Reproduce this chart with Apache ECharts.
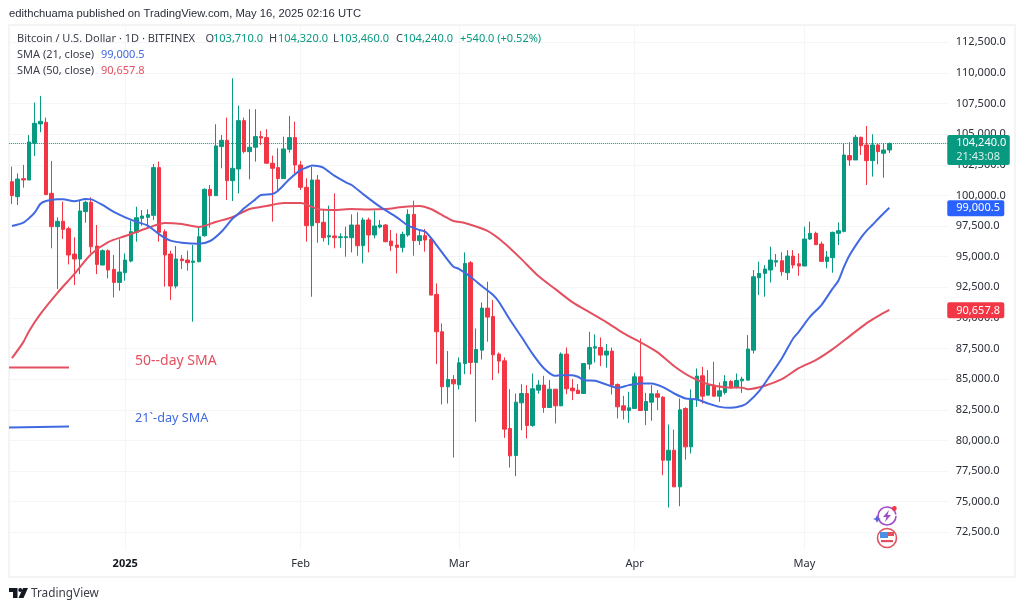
<!DOCTYPE html>
<html><head><meta charset="utf-8">
<script src="https://cdn.jsdelivr.net/npm/echarts@6/dist/echarts.min.js"></script>
<style>html,body{margin:0;padding:0;background:#fff}#c{width:1024px;height:610px}</style>
</head><body><div id="c"></div>
<script>
const opens=[101125,99900,101370,101260,104255,105835,105970,100170,97450,97885,97285,95215,94810,98675,99435,95870,94315,95490,93965,92900,
93690,94640,96985,98130,98210,98375,102270,97040,95215,92600,94810,94725,94535,94590,96715,100500,99980,103985,104500,101205,
102160,106105,103575,103930,104800,104720,102625,102270,101370,103765,104720,102485,100660,97530,101260,97805,96605,96690,96550,96550,
96550,97585,95895,97995,96770,97420,97585,96280,95950,95760,96770,98455,96305,96715,96415,91920,88870,84375,84975,84540,
86280,94505,86365,87370,90800,90120,87045,86500,80975,78770,83070,83830,81220,84105,84515,82690,84185,82825,87045,84270,
84105,83830,86230,87535,87590,86965,87290,84570,82825,82445,82610,85195,82445,83125,83805,83530,78385,79200,76210,82610,
79475,83340,85275,83695,84515,83615,83915,84815,84325,84865,84920,87370,93280,93635,93910,94560,94670,93690,95050,94425,
94235,96440,96905,96030,94615,94915,96905,97065,103250,102895,104745,104120,102840,104120,103440,103710];
const highs=[102350,101800,102490,104935,107580,108125,106355,102815,98210,99490,97450,96580,99575,99575,99845,97585,95600,95600,95135,96415,
95270,97940,99080,98810,98865,102570,102760,97230,95490,95870,95135,95490,95950,97450,100580,100850,105810,104935,106355,109565,
107330,106355,107035,107035,105265,105400,103250,103850,104800,106490,106025,102815,101395,102350,101670,98810,99165,100170,96905,97450,
98455,98620,98185,98185,98755,97995,97665,97175,96905,97040,98865,99570,97175,97260,96630,92820,89550,87290,85330,86775,
95350,94640,89140,91265,92955,91455,87180,86775,84185,83830,84595,84515,85465,84920,85275,84920,84185,87180,87590,85005,
84595,86280,88870,88650,88405,87865,87590,84650,83640,83970,85520,88325,83885,84515,84105,83615,81300,80890,83425,82700,
84160,85875,86010,85740,86420,84730,85330,84920,85465,85195,88600,93905,94590,94315,95815,95215,95350,95540,95540,95270,
97450,97855,97040,96225,95460,97040,97800,104255,104340,104935,104800,105670,104990,104200,104255,104320];
const lows=[99300,99220,100635,101260,103220,105155,100035,95680,92355,96440,94370,92685,93580,97775,95270,93580,94315,93230,91675,92220,
93035,94535,96220,97530,97450,97995,96220,92550,91460,92410,93990,93855,89690,94535,96630,97365,99980,102215,99625,99545,
100170,103440,101315,102760,104120,102625,97855,100445,101370,103495,101805,100445,96225,91730,96140,96225,95950,95680,95735,95000,
95350,95080,94455,95350,96495,97310,96170,95460,93635,95350,96630,95080,95950,95410,91865,86230,82935,83015,78605,84160,
85410,85385,81520,86610,88055,84920,85465,80210,77790,77080,80835,80155,81110,83830,82255,82665,81380,82795,83775,83290,
83775,83830,85790,86365,86065,85930,83750,81790,81710,81435,82610,82420,81245,81600,82470,77160,74520,76210,74630,78440,
78930,82740,83015,83695,83560,83150,83750,84240,84240,83885,84920,87100,91865,91730,92900,94180,93445,93090,94045,93445,
94235,96360,95950,94590,94045,93690,95950,96985,102405,102895,103300,100850,101535,102540,101450,103460];
const closes=[99980,101340,101260,104365,105890,106050,100065,97450,97885,97230,95135,94810,98730,99435,95815,94370,95490,93910,92900,93745,
94725,97040,98185,98320,98430,102270,96985,95135,92600,94810,94670,94510,94640,96630,100500,99980,104040,104500,101205,102215,
106105,103575,103930,104800,104690,102625,102215,101370,103795,104720,102485,100660,97530,101260,97775,96550,96715,96550,96630,96630,
97585,95895,97995,96770,97505,97585,96225,95895,95760,96825,98455,96305,96715,96360,91865,88870,84375,84975,84620,86340,
94450,86365,87425,90800,90070,86990,86475,80920,78740,83125,83830,81220,84215,84515,82690,84185,82825,87045,84215,84050,
83830,86280,87590,87645,86965,87290,84515,82745,82470,82665,85195,82445,83180,83805,83530,78385,79200,76210,82500,79475,
83340,85250,83615,84515,83615,84050,84815,84270,84895,85005,87455,93360,93635,93990,94725,94670,93770,95050,94315,94235,
96440,96905,95980,94615,94970,96985,97120,103300,102895,104745,104065,102840,104120,103575,103710,104240];

const sma21Index=[0,2,3,4,5,6,8,9,11,13,14,16,18,20,22,24,26,28,30,33,35,37,39,40,41,43,44,46,47,49,51,52,53,54,55,57,59,60,62,65,68,70,72,73,74,75,77,78,79,81,83,85,86,88,90,92,94,96,97,99,100,101,103,105,107,109,111,113,115,117,119,121,123,125,127,129,130,132,134,136,138,139,141,143,145,146,147,148,150,151,152,153,154,155];
const sma21Values=[97500,97775,98130,98590,99300,99545,99680,99680,99520,99710,99680,99220,98650,98210,97855,97530,96825,96305,96140,96060,96280,97040,98130,98500,98945,99680,100035,100115,100390,101315,102080,102270,102435,102405,102270,101590,101070,100850,100115,99080,98210,97530,97175,97040,96550,95950,94725,94180,93990,93365,92600,91865,91320,89825,88460,87045,85875,85275,85330,85330,85195,84920,84870,84570,84295,84515,84650,84650,84350,83830,83425,83340,83015,82740,82660,82825,83100,84025,85330,86690,88325,88870,90100,91050,92410,93040,94180,95135,96550,97125,97585,98075,98540,99000.5];
const sma50Index=[0,2,3,5,8,11,14,17,20,24,27,30,33,36,39,42,45,48,51,54,57,60,63,66,69,72,74,76,78,80,84,87,90,93,96,99,102,105,108,111,114,117,120,123,126,129,130,133,136,139,142,145,148,151,153,155];
const sma50Values=[86720,88025,88920,90310,92030,93580,95215,96195,96685,97340,97750,97665,97420,97830,98240,98890,99135,99380,99380,98890,98810,98890,98850,98890,99050,99135,98890,98400,97910,97750,97100,96100,94800,93420,92350,91290,90470,89660,88760,88025,87210,86060,85165,84590,84350,84310,84185,84470,85000,85900,86555,87450,88515,89580,90150,90657.8];

const yTickValues=[72500,75000,77500,80000,82500,85000,87500,90000,92500,95000,97500,100000,102500,105000,107500,110000,112500];
const monthLabels={'2025-01-01':'2025','2025-02-01':'Feb','2025-03-01':'Mar','2025-04-01':'Apr','2025-05-01':'May'};
const priceTags=[104240,99000.5,90657.8];
const countdown='21:43:08';

const categories=[];
for(let d=Date.UTC(2024,11,12),k=0;k<166;k++,d+=864e5){categories.push(new Date(d).toISOString().slice(0,10));}
const candles=opens.map((o,i)=>[o,closes[i],lows[i],highs[i]]);
const UP='#089981',DOWN='#f23645',BLUE='#4169e1',RED='#e4505f',TXT='#3b3f4a',GRID='#f4f5f7';
const FONT='"Noto Sans",sans-serif';
const fmt=v=>v.toLocaleString('en-US',{minimumFractionDigits:1,maximumFractionDigits:1});
const isMonth=(i,v)=>monthLabels[v]!==undefined;
const T=(x,y,text,fill,size,family)=>({type:'text',x,y,z:50,silent:true,style:{text,fill,font:(size||11)+'px '+(family||FONT),textVerticalAlign:'middle'}});

const gfx=[
 {type:'rect',shape:{x:9,y:25,width:1006,height:552},style:{fill:'none',stroke:'#f0f1f4',lineWidth:1.5},silent:true,z:-1},
 T(9,14,'edithchuama published on TradingView.com, May 16, 2025 02:16 UTC','#2a2e39',11.25,'"Liberation Sans",sans-serif'),
 T(17,39,'Bitcoin / U.S. Dollar · 1D · BITFINEX',TXT,11),
 T(205.5,39,'O',TXT,11),T(213,39,'103,710.0',UP,11),
 T(269,39,'H',TXT,11),T(278,39,'104,320.0',UP,11),
 T(333,39,'L',TXT,11),T(339,39,'103,460.0',UP,11),
 T(396,39,'C',TXT,11),T(403,39,'104,240.0',UP,11),
 T(460,39,'+540.0 (+0.52%)',UP,11),
 T(17,55,'SMA (21, close)',TXT,11),T(101,55,'99,000.5',BLUE,11),
 T(17,71,'SMA (50, close)',TXT,11),T(101,71,'90,657.8',RED,11),
 {type:'line',z:50,shape:{x1:9,y1:367.5,x2:69,y2:367.5},style:{stroke:RED,lineWidth:2},silent:true},
 {type:'line',z:50,shape:{x1:9,y1:427.5,x2:69,y2:426.5},style:{stroke:BLUE,lineWidth:2},silent:true},
 T(135,361,'50--day SMA',RED,14),
 T(135,418.5,'21`-day SMA',BLUE,12.7),
 // event icons
 {type:'arc',z:50,shape:{cx:887,cy:516,r:9,startAngle:0,endAngle:Math.PI*1.95},style:{stroke:'#a24bc9',fill:'none',lineWidth:1.6},silent:true},
 {type:'polygon',z:50,shape:{points:[[889,510],[883,517],[886.5,517],[885,522],[891,515],[887.5,515]]},style:{fill:'#a24bc9'},silent:true},
 {type:'circle',z:50,shape:{cx:894.3,cy:508.5,r:2.4},style:{fill:DOWN},silent:true},
 {type:'polygon',z:50,shape:{points:[[877,515],[878.3,518],[881,519],[878.3,520],[877,523],[875.7,520],[873,519],[875.7,518]]},style:{fill:'#5b5fe0'},silent:true},
 {type:'circle',z:50,shape:{cx:887,cy:538,r:9.5},style:{fill:'#fff',stroke:'#e2505f',lineWidth:1.6},silent:true},
 {type:'rect',z:51,shape:{x:880,y:532,width:14,height:4},style:{fill:'#e2505f'},silent:true},
 {type:'rect',z:52,shape:{x:880,y:532,width:8,height:6},style:{fill:'#4a90e2'},silent:true},
 {type:'rect',z:51,shape:{x:881,y:540,width:12,height:2.2},style:{fill:'#e2505f'},silent:true},
 // TradingView mark
 {type:'polygon',shape:{points:[[9,588],[17.5,588],[17.5,598],[13,598],[13,592],[9,592]]},style:{fill:'#131722'},silent:true},
 {type:'circle',shape:{cx:20.2,cy:590,r:2},style:{fill:'#131722'},silent:true},
 {type:'polygon',shape:{points:[[23,588],[28,588],[23.5,598],[18.5,598]]},style:{fill:'#131722'},silent:true},
 T(31,593.5,'TradingView','#3a3d45',11.8)
];

const chart=echarts.init(document.getElementById('c'),null,{renderer:'canvas'});
chart.setOption({
 animation:false,backgroundColor:'#fff',tooltip:{show:false},
 grid:{left:9.17,top:25,width:939.6,height:525,containLabel:false},
 xAxis:{type:'category',data:categories,boundaryGap:true,
  axisLine:{show:false},axisTick:{show:false,alignWithLabel:true,interval:isMonth},
  axisLabel:{interval:isMonth,margin:8,fontSize:11,fontFamily:FONT,color:'#2a2e39',
   formatter:v=>monthLabels[v]==='2025'?'{b|2025}':(monthLabels[v]||''),
   rich:{b:{fontWeight:'bold',fontSize:11,fontFamily:FONT,color:'#131722'}}},
  splitLine:{show:true,alignWithLabel:true,interval:isMonth,lineStyle:{color:GRID,width:1}}},
 yAxis:{type:'value',position:'right',min:71055,max:113912,scale:true,
  axisLine:{show:false},axisTick:{show:false,customValues:yTickValues},
  axisLabel:{customValues:yTickValues,margin:7,fontSize:11,fontFamily:FONT,color:'#2a2e39',formatter:v=>fmt(v),showMinLabel:true,showMaxLabel:true},
  splitLine:{show:true,lineStyle:{color:GRID,width:1}}},
 graphic:gfx,
 series:[
  {type:'candlestick',data:candles,barWidth:4,clip:false,z:2,
   itemStyle:{color:UP,color0:DOWN,borderColor:UP,borderColor0:DOWN,borderWidth:1,borderColorDoji:UP},
   markLine:{silent:true,symbol:'none',label:{show:false},lineStyle:{color:UP,type:'dotted',width:1},data:[{yAxis:closes[closes.length-1]}]}},
  {type:'line',data:sma50Index.map((x,i)=>[x,sma50Values[i]]),smooth:0.25,showSymbol:false,lineStyle:{color:RED,width:2},itemStyle:{color:RED},z:3},
  {type:'line',data:sma21Index.map((x,i)=>[x,sma21Values[i]]),smooth:0.25,showSymbol:false,lineStyle:{color:BLUE,width:2},itemStyle:{color:BLUE},z:4},
  {type:'custom',z:10,clip:false,silent:true,data:priceTags.map((v,i)=>[closes.length-1,v,i]),
   renderItem:(p,api)=>{
    const i=api.value(2),val=api.value(1),y=api.coord([api.value(0),val])[1];
    const x=p.coordSys.x+p.coordSys.width-1.5;
    const col=[UP,'#2962ff',DOWN][i];
    if(i===0){return {type:'group',children:[
      {type:'rect',shape:{x,y:y-8.5,width:62.5,height:30,r:2},style:{fill:col}},
      {type:'text',x:x+9,y:y-0.5,style:{text:fmt(val),fill:'#fff',font:'11px '+FONT,textVerticalAlign:'middle'}},
      {type:'text',x:x+9,y:y+13,style:{text:countdown,fill:'#d5f0ea',font:'11px '+FONT,textVerticalAlign:'middle'}}]};}
    return {type:'group',children:[
      {type:'rect',shape:{x,y:y-7.5,width:57,height:16,r:2},style:{fill:col}},
      {type:'text',x:x+9,y:y+0.5,style:{text:fmt(val),fill:'#fff',font:'11px '+FONT,textVerticalAlign:'middle'}}]};
   }}
 ]
});
</script></body></html>
